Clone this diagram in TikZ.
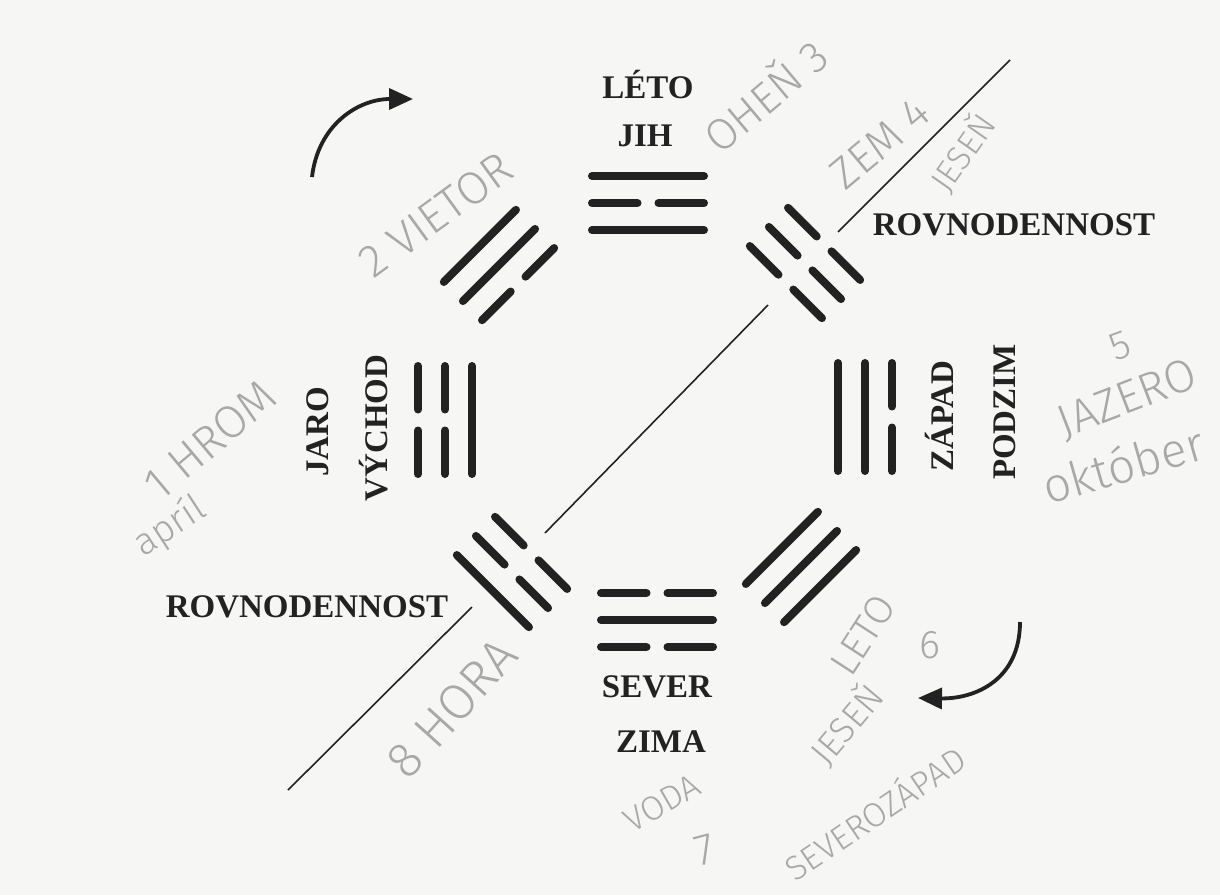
\documentclass[tikz,border=0pt]{standalone}
\usepackage{fontspec}
\setmainfont{Liberation Serif}
\IfFontExistsTF{Fira Sans Light}
  {\newfontfamily\handfont{Fira Sans Light}}
  {\newfontfamily\handfont{Liberation Sans}}
\usetikzlibrary{arrows.meta}
\definecolor{paper}{RGB}{246,246,244}
\definecolor{ink}{RGB}{34,34,34}
\definecolor{pencil}{RGB}{168,168,168}
\tikzset{
  yaoline/.style={draw=ink, line width=8pt, line cap=round},
  lab/.style={font=\bfseries\fontsize{33}{36}\selectfont, text=ink, inner sep=0pt, anchor=base},
  hw/.style={font=\handfont\fontsize{#1}{#1}\selectfont, text=pencil, inner sep=0pt},
  hw/.default=36,
  axisline/.style={draw=ink, line width=1.6pt},
  turnarrow/.style={draw=ink, line width=3.8pt, -{Triangle[length=24pt,width=21pt]}}
}
\newcommand\yang[2]{\draw[yaoline] (-#2,#1) -- (#2,#1);}
\newcommand\yin[2]{\draw[yaoline] (-#2,#1) -- (-10.5,#1) (10.5,#1) -- (#2,#1);}
\begin{document}
\begin{tikzpicture}[x=1pt,y=-1pt]
\fill[paper] (0,0) rectangle (1220,895);
\useasboundingbox (0,0) rectangle (1220,895);
\clip (0,0) rectangle (1220,895);

% diagonal axis
\coordinate (d1a) at (1010,60);  \coordinate (d1b) at (838,232);
\coordinate (d2a) at (768,305);  \coordinate (d2b) at (545,533);
\coordinate (d3a) at (472,607);  \coordinate (d3b) at (288,790);
\draw[axisline] (d1a) -- (d1b);
\draw[axisline] (d2a) -- (d2b);
\draw[axisline] (d3a) -- (d3b);

% trigrams (v=+27 inner, 0 middle, -27 outer)
\begin{scope}[shift={(648,203)}]            % S  Li
  \yang{27}{56} \yin{0}{56} \yang{-27}{56}
\end{scope}
\begin{scope}[shift={(657,620)}, rotate=180] % N  Kan
  \yin{27}{56} \yang{0}{56} \yin{-27}{56}
\end{scope}
\begin{scope}[shift={(445,420)}, rotate=90]  % E  Zhen
  \yang{27}{54} \yin{0}{54} \yin{-27}{54}
\end{scope}
\begin{scope}[shift={(865,417)}, rotate=-90] % W  Dui
  \yang{27}{54} \yang{0}{54} \yin{-27}{54}
\end{scope}
\begin{scope}[shift={(499,265)}, rotate=45]  % SE Xun
  \yin{27}{51} \yang{0}{51} \yang{-27}{51}
\end{scope}
\begin{scope}[shift={(805,263)}, rotate=-45] % SW Kun
  \yin{27}{51} \yin{0}{51} \yin{-27}{51}
\end{scope}
\begin{scope}[shift={(801,567)}, rotate=-135] % NW Qian
  \yang{27}{51} \yang{0}{51} \yang{-27}{51}
\end{scope}
\begin{scope}[shift={(512,572)}, rotate=135] % NE Gen
  \yin{27}{51} \yin{0}{51} \yang{-27}{51}
\end{scope}

% printed labels
\node[lab] (leto) at (648,98) {LÉTO};
\node[lab] (jih) at (645,146) {JIH};
\node[lab] (rovne) at (1014,235) {ROVNODENNOST};
\node[lab] (rovnw) at (307,617) {ROVNODENNOST};
\node[lab] (sever) at (657,697) {SEVER};
\node[lab] (zima) at (661,752) {ZIMA};
\node[lab, rotate=90] (jaro) at (328,432) {JARO};
\node[lab, rotate=90] (vychod) at (387,428) {VÝCHOD};
\node[lab, rotate=90] (zapad) at (953,416) {ZÁPAD};
\node[lab, rotate=90] (podzim) at (1015,412) {PODZIM};

% turning arrows
\coordinate (a1s) at (312,177); \coordinate (a1e) at (413,99);
\draw[turnarrow] (a1s) .. controls (318,125) and (358,99) .. (a1e);
\coordinate (a2s) at (1020,622); \coordinate (a2e) at (918,698);
\draw[turnarrow] (a2s) .. controls (1020,680) and (975,699) .. (a2e);

% pencil notes
\node[hw=46, rotate=36] (h2) at (436,215) {2 VIETOR};
\node[hw=44, rotate=40] (h3) at (764,94) {OHEŇ 3};
\node[hw=44, rotate=40] (h4) at (880,143) {ZEM 4};
\node[hw=34, rotate=55] (h4b) at (962,152) {JESEŇ};
\node[hw=46, rotate=40] (h1) at (210,440) {1 HROM};
\node[hw=38, rotate=33] (h1b) at (170,527) {apríl};
\node[hw=46, rotate=21] (h5) at (1128,400) {JAZERO};
\node[hw=40, rotate=20] (h5n) at (1120,346) {5};
\node[hw=48, rotate=16] (h5b) at (1123,464) {október};
\node[hw=40, rotate=57] (h6a) at (863,635) {LETO};
\node[hw=40] (h6) at (930,645) {6};
\node[hw=36, rotate=50] (h6b) at (846,724) {JESEŇ};
\node[hw=50, rotate=48] (h8) at (452,708) {8 HORA};
\node[hw=34, rotate=30] (h7a) at (662,803) {VODA};
\node[hw=44, rotate=15] (h7) at (705,850) {7};
\node[hw=34, rotate=34] (h7b) at (874,812) {SEVEROZÁPAD};
\end{tikzpicture}
\end{document}
